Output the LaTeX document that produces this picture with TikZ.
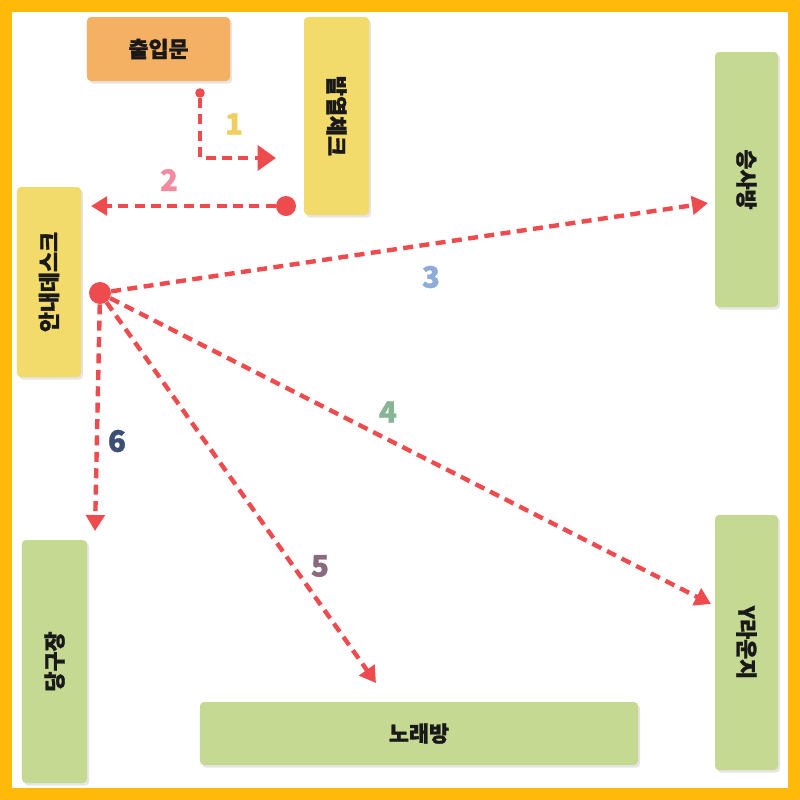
\documentclass[tikz,border=0pt]{standalone}
\usepackage{fontspec}
\newfontfamily\kr{Noto Sans CJK KR}[BoldFeatures={FakeBold=1.3}]
\usetikzlibrary{arrows.meta,shadows}

\definecolor{frameorange}{HTML}{FFB908}
\definecolor{gateorange}{HTML}{F4B163}
\definecolor{roomyellow}{HTML}{F2DB6B}
\definecolor{roomgreen}{HTML}{C6D992}
\definecolor{pathred}{HTML}{EE4B4E}
\definecolor{numone}{HTML}{F0CF60}
\definecolor{numtwo}{HTML}{F48AA0}
\definecolor{numthree}{HTML}{8EACD8}
\definecolor{numfour}{HTML}{88B596}
\definecolor{numfive}{HTML}{8A6A7E}
\definecolor{numsix}{HTML}{3B4F77}

\tikzset{
  room/.style={rounded corners=1mm, inner sep=0pt, text=black!90,
    font=\kr\bfseries\fontsize{15.5}{15.5}\selectfont,
    drop shadow={shadow xshift=1.5pt, shadow yshift=-1.8pt, opacity=.2}},
  flow/.style={draw=pathred, line width=1.1mm, dash pattern=on 2.5mm off 1.6mm,
    -{Triangle[length=4mm,width=4.6mm]}},
  spot/.style={circle, fill=pathred, inner sep=0pt, minimum size=5mm},
  num/.style={font=\kr\bfseries\fontsize{21}{21}\selectfont}
}

\begin{document}
\begin{tikzpicture}[x=0.25mm,y=-0.25mm]
  \fill[frameorange] (0,0) rectangle (800,800);
  \fill[white] (12,12) rectangle (788,788);
  \useasboundingbox (0,0) rectangle (800,800);

  % rooms
  \node[room, fill=gateorange, minimum width=35.75mm, minimum height=16mm] (gate) at (158.5,49) {출입문};
  \node[room, fill=roomyellow, minimum width=16.25mm, minimum height=49.5mm] (check) at (336.5,116) {\rotatebox{-90}{발열체크}};
  \node[room, fill=roomyellow, minimum width=16mm, minimum height=47.5mm] (desk) at (49,282) {\rotatebox{90}{안내데스크}};
  \node[room, fill=roomgreen, minimum width=15.75mm, minimum height=63.75mm] (rest) at (746.5,179.5) {\rotatebox{-90}{승사방}};
  \node[room, fill=roomgreen, minimum width=15.75mm, minimum height=63.75mm] (lounge) at (746.5,642.5) {\rotatebox{-90}{Y라운지}};
  \node[room, fill=roomgreen, minimum width=16.25mm, minimum height=60.75mm] (billiard) at (54.5,661.5) {\rotatebox{90}{당구장}};
  \node[room, fill=roomgreen, minimum width=109.5mm, minimum height=15.75mm] (karaoke) at (419,733.5) {노래방};

  % start points
  \node[spot, minimum size=2.4mm] (s1) at (200,93) {};
  \node[spot] (s2) at (286,206) {};
  \node[spot, minimum size=5.5mm] (s3) at (100,293) {};

  \coordinate (e1) at (276,158);
  \coordinate (e2) at (91,206);
  \coordinate (e3) at (708,203);
  \coordinate (e4) at (711,604);
  \coordinate (e5) at (376,683);
  \coordinate (e6) at (95,531);

  % routes
  \draw[flow, -{Triangle[length=4.6mm,width=6.2mm]}] (s1) |- (e1);
  \draw[flow] (s2) -- (e2);
  \draw[flow] (s3) -- (e3);
  \draw[flow] (s3) -- (e4);
  \draw[flow] (s3) -- (e5);
  \draw[flow] (s3) -- (e6);

  % step numbers
  \node[num, text=numone] (n1) at (234,124) {1};
  \node[num, text=numtwo] (n2) at (169,180) {2};
  \node[num, text=numthree] (n3) at (431,277) {3};
  \node[num, text=numfour] (n4) at (388,412) {4};
  \node[num, text=numfive] (n5) at (320,566) {5};
  \node[num, text=numsix] (n6) at (117,441) {6};
\end{tikzpicture}
\end{document}
